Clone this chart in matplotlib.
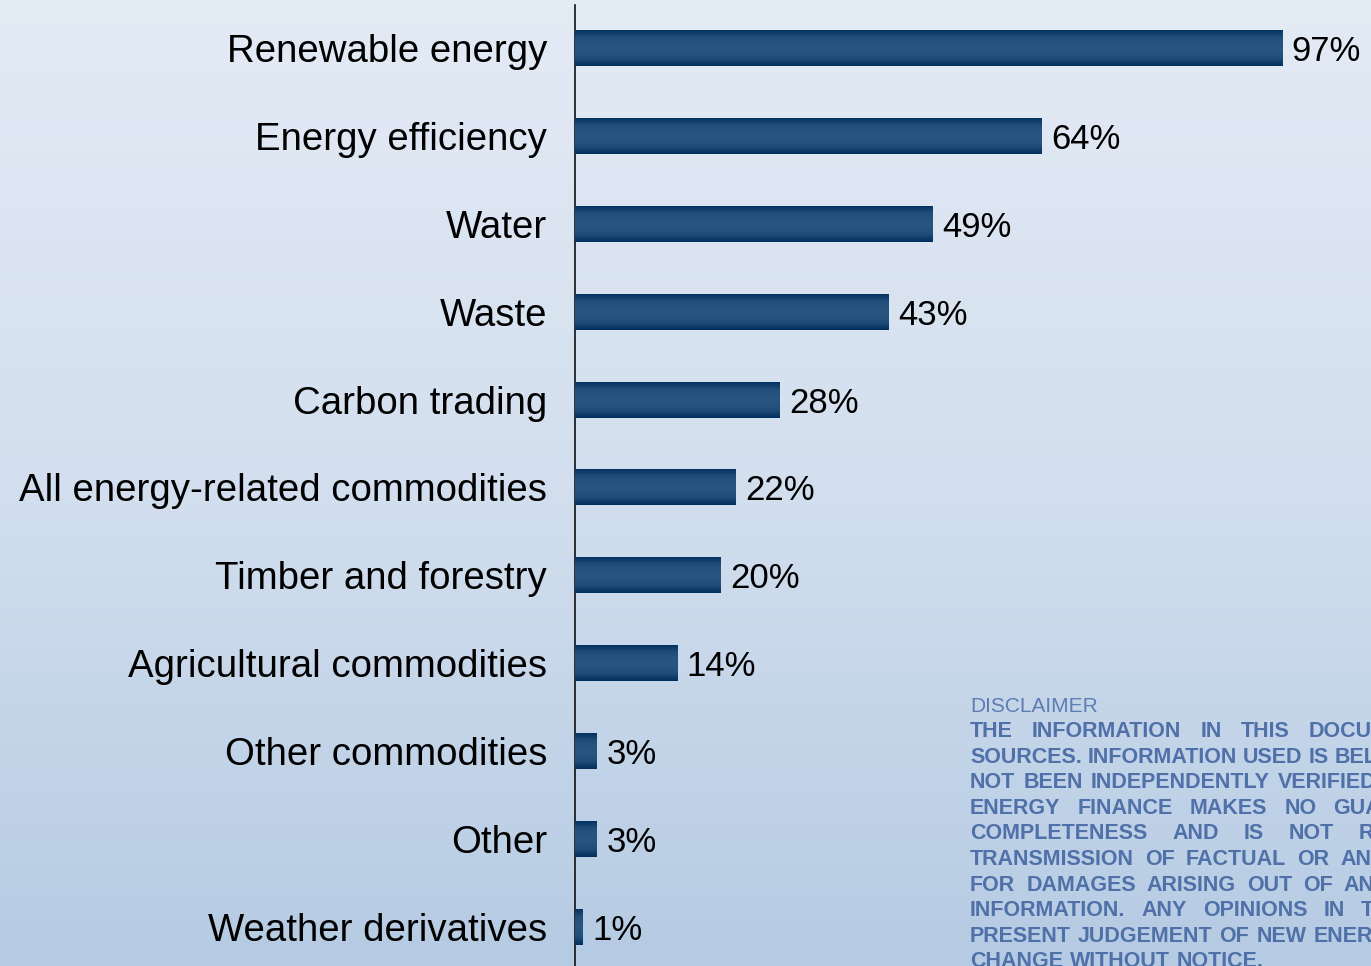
import numpy as np
import matplotlib
matplotlib.use('Agg')
import matplotlib.pyplot as plt
from matplotlib.colors import LinearSegmentedColormap

plt.rcParams['font.family'] = ['Liberation Sans', 'DejaVu Sans']

categories = ['Renewable energy', 'Energy efficiency', 'Water', 'Waste', 'Carbon trading',
              'All energy-related commodities', 'Timber and forestry', 'Agricultural commodities',
              'Other commodities', 'Other', 'Weather derivatives']
values = [97, 64, 49, 43, 28, 22, 20, 14, 3, 3, 1]

disclaimer_title = 'DISCLAIMER'
disclaimer_lines = [
    ('THE INFORMATION IN THIS DOCUMENT', 19),
    ('SOURCES. INFORMATION USED IS BELIEVED', 6),
    ('NOT BEEN INDEPENDENTLY VERIFIED', 8),
    ('ENERGY FINANCE MAKES NO GUARANTEE', 17),
    ('COMPLETENESS AND IS NOT RESPONSIBLE', 25),
    ('TRANSMISSION OF FACTUAL OR ANALYTICAL', 11),
    ('FOR DAMAGES ARISING OUT OF ANY', 11),
    ('INFORMATION. ANY OPINIONS IN THIS', 16),
    ('PRESENT JUDGEMENT OF NEW ENERGY', 7),
    ('CHANGE WITHOUT NOTICE.', 7),
]

W, H = 1371, 966
fig = plt.figure(figsize=(W / 100, H / 100), dpi=100)

# background gradient
bg = fig.add_axes([0, 0, 1, 1], zorder=-1)
bg_cmap = LinearSegmentedColormap.from_list('bg', ['#e3ebf5', '#d3dfee', '#b5cbe3'])
bg.imshow(np.linspace(0, 1, 256).reshape(-1, 1), aspect='auto', cmap=bg_cmap,
          extent=[0, 1, 0, 1], origin='upper')
bg.axis('off')

ax = fig.add_axes([575 / W, 0, 1 - 575 / W, (H - 5) / H])
ax.set_facecolor('none')

y = np.arange(len(categories))
bars = ax.barh(y, values, height=0.41, color='#1a416d')

bar_cmap = LinearSegmentedColormap.from_list('bar', ['#00305f', '#1f4b78', '#285580',
                                                      '#285580', '#1f4b78', '#00305f'])
grad = np.linspace(0, 1, 64).reshape(-1, 1)
for p in bars.patches:
    x0, y0 = p.get_x(), p.get_y()
    im = ax.imshow(grad, aspect='auto', cmap=bar_cmap, zorder=3,
                   extent=[x0, x0 + p.get_width(), y0, y0 + p.get_height()])
    im.set_clip_path(p)

for yi, v in zip(y, values):
    ax.annotate(f'{v}%', (v, yi), xytext=(7, 0), textcoords='offset points',
                va='center_baseline', ha='left', fontsize=25, color='black')

ax.set_xlim(0, 109.2)
ax.set_ylim(10.444, -0.489)
ax.set_yticks(y)
ax.set_yticklabels(categories, fontsize=27.6)
ax.tick_params(axis='y', length=0, pad=20)
ax.set_xticks([])
for s in ['top', 'right', 'bottom']:
    ax.spines[s].set_visible(False)
ax.spines['left'].set_linewidth(1.2)
ax.spines['left'].set_color('#111111')

# disclaimer block
fig.text(970 / W, 1 - 712 / H, disclaimer_title, fontsize=15, color='#5d7db3',
         va='baseline', ha='left')
renderer = fig.canvas.get_renderer()
for i, (line, gap) in enumerate(disclaimer_lines):
    base = 737 + i * 25.6
    xpix = 970
    for word in line.split():
        t = fig.text(xpix / W, 1 - base / H, word, fontsize=15.5, fontweight='bold',
                     color='#4f70a8', va='baseline', ha='left')
        ext = t.get_window_extent(renderer)
        xpix = ext.x1 + gap

fig.savefig('out.png', dpi=100)
